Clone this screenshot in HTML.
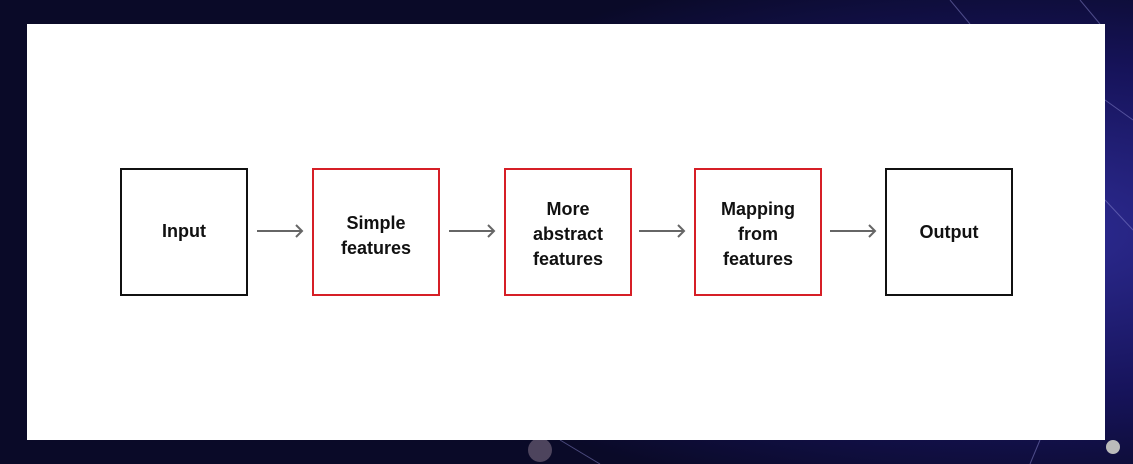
<!DOCTYPE html>
<html><head><style>
html,body{margin:0;padding:0;}
body{width:1133px;height:464px;overflow:hidden;background:#0a0a2a;}
svg{display:block}
text{font-family:"Liberation Sans",sans-serif;font-size:18px;font-weight:bold;fill:#111;text-anchor:middle}
</style></head><body>
<svg width="1133" height="464" xmlns="http://www.w3.org/2000/svg">
<defs>
<radialGradient id="g" cx="0.9" cy="0.5" r="0.6"><stop offset="0" stop-color="#2e2c95"/><stop offset="0.6" stop-color="#16135a"/><stop offset="1" stop-color="#0a0a28"/></radialGradient>
</defs>
<rect width="1133" height="464" fill="url(#g)"/>
<g stroke="#8a88d0" stroke-width="1" opacity="0.5">
<line x1="1105" y1="100" x2="1133" y2="120"/><line x1="1105" y1="200" x2="1133" y2="230"/>
<line x1="950" y1="0" x2="970" y2="24"/><line x1="1080" y1="0" x2="1100" y2="24"/>
<line x1="560" y1="440" x2="600" y2="464"/><line x1="1040" y1="440" x2="1030" y2="464"/>
</g>
<circle cx="1113" cy="447" r="7" fill="#bbb"/>
<circle cx="540" cy="450" r="12" fill="#7a6a80" opacity="0.6"/>
<rect x="27" y="24" width="1078" height="416" fill="#fff"/>
<g fill="none" stroke-width="2">
<rect x="121" y="169" width="126" height="126" stroke="#111"/>
<rect x="313" y="169" width="126" height="126" stroke="#d61f26"/>
<rect x="505" y="169" width="126" height="126" stroke="#d61f26"/>
<rect x="695" y="169" width="126" height="126" stroke="#d61f26"/>
<rect x="886" y="169" width="126" height="126" stroke="#111"/>
</g>
<g stroke="#666" stroke-width="2" fill="none">
<path d="M257 231H302M296 225L302 231L296 237"/>
<path d="M449 231H494M488 225L494 231L488 237"/>
<path d="M639 231H684M678 225L684 231L678 237"/>
<path d="M830 231H875M869 225L875 231L869 237"/>
</g>
<text x="184" y="237">Input</text>
<text x="376" y="229">Simple</text><text x="376" y="254">features</text>
<text x="568" y="215">More</text><text x="568" y="240">abstract</text><text x="568" y="265">features</text>
<text x="758" y="215">Mapping</text><text x="758" y="240">from</text><text x="758" y="265">features</text>
<text x="949" y="238">Output</text>
</svg>
</body></html>
